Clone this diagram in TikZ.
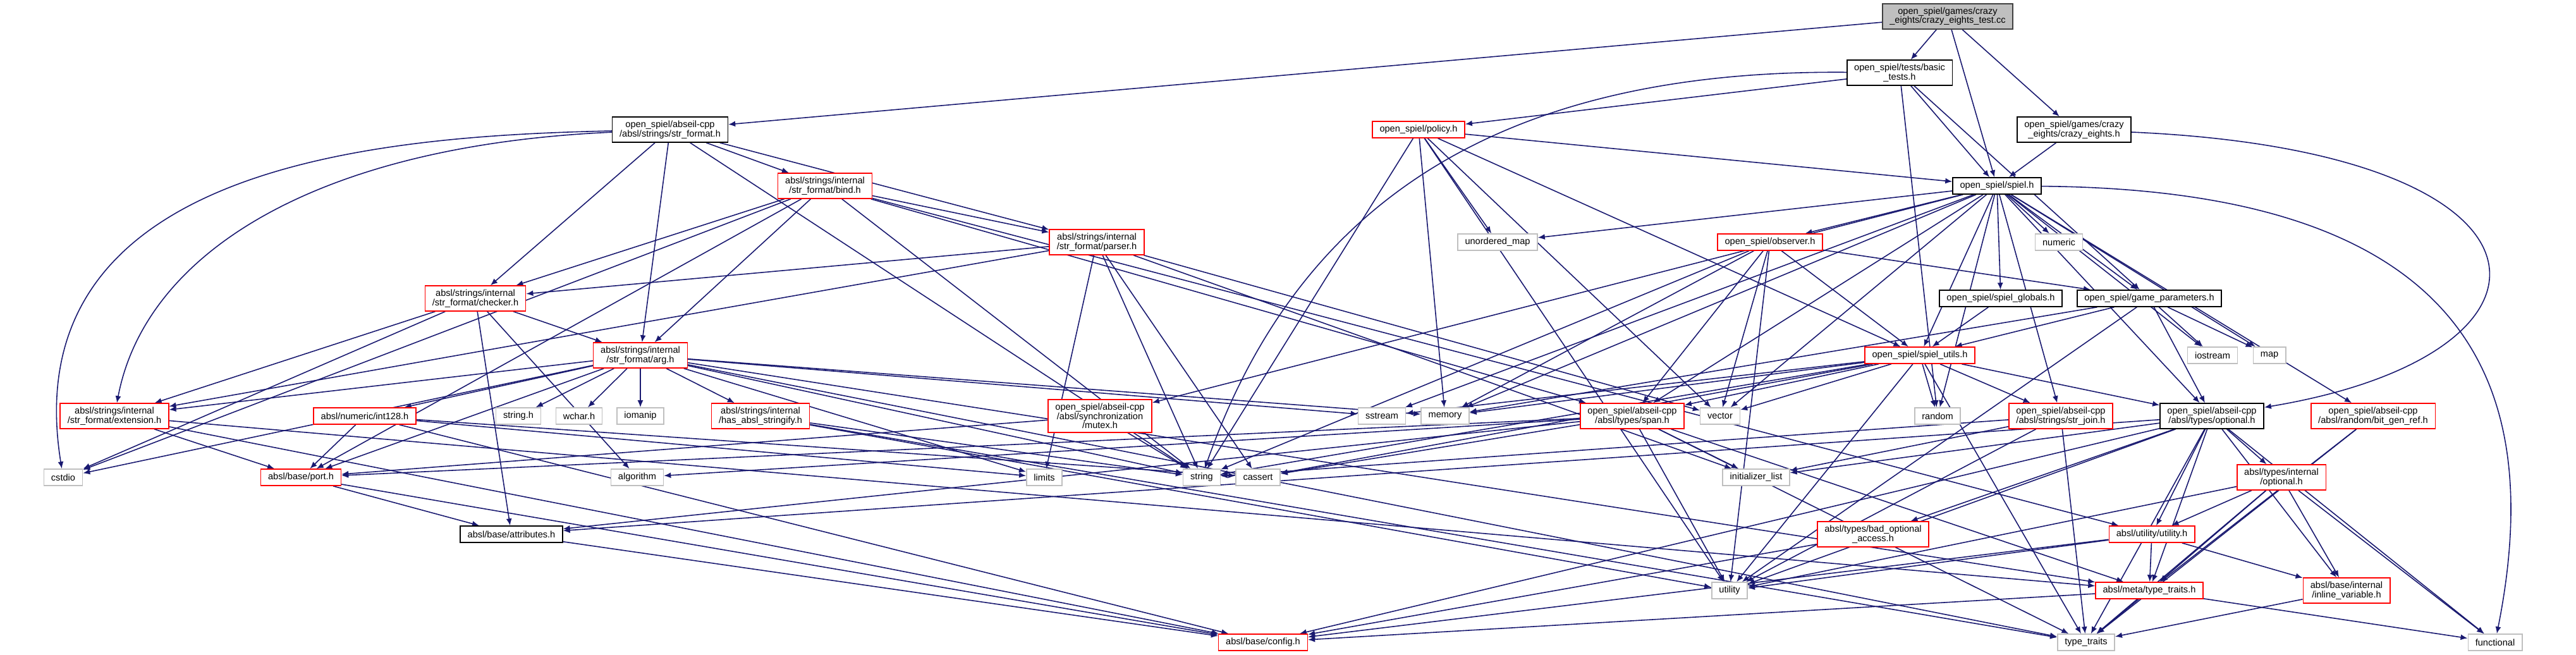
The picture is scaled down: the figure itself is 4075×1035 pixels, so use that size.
\documentclass[tikz,border=0pt]{standalone}
\usepackage{fontspec}
\setmainfont{Liberation Sans}
\usepackage{xcolor}
\usetikzlibrary{arrows.meta,backgrounds}
\definecolor{depblue}{HTML}{191970}
\definecolor{sysgray}{HTML}{BFBFBF}
\definecolor{cutred}{HTML}{FF0000}

\begin{document}
\begin{tikzpicture}[x=0.01cm, y=-0.01cm, >={Latex[length=1.1mm,width=0.9mm]},
  font=\fontsize{4.15}{4.1}\selectfont,
  box/.style={draw, line width=0.45pt, fill=white, inner xsep=0.115cm, inner ysep=0.06cm, minimum height=0.26cm, align=center},
  full/.style={box, draw=black},
  trunc/.style={box, draw=cutred},
  sys/.style={box, draw=sysgray},
  root/.style={box, draw=black!75, fill=sysgray},
  dep/.style={->, draw=depblue, line width=0.45pt}]
\useasboundingbox (0,0) rectangle (4075,1035);

\node[root] (test) at (3081,26) {open\_spiel/games/crazy\\\_eights/crazy\_eights\_test.cc};
\node[full] (basic) at (3005,115) {open\_spiel/tests/basic\\\_tests.h};
\node[full] (strfmt) at (1060,205) {open\_spiel/abseil-cpp\\/absl/strings/str\_format.h};
\node[trunc] (policy) at (2244,205) {open\_spiel/policy.h};
\node[full] (crazy) at (3281,205) {open\_spiel/games/crazy\\\_eights/crazy\_eights.h};
\node[full] (spiel) at (3159,294) {open\_spiel/spiel.h};
\node[trunc] (bind) at (1305,294) {absl/strings/internal\\/str\_format/bind.h};
\node[trunc] (parser) at (1735,383) {absl/strings/internal\\/str\_format/parser.h};
\node[sys] (umap) at (2369,383) {unordered\_map};
\node[trunc] (observer) at (2800,383) {open\_spiel/observer.h};
\node[sys] (numeric) at (3257,383) {numeric};
\node[trunc] (checker) at (752,472) {absl/strings/internal\\/str\_format/checker.h};
\node[full] (globals) at (3165,472) {open\_spiel/spiel\_globals.h};
\node[full] (params) at (3400,472) {open\_spiel/game\_parameters.h};
\node[trunc] (arg) at (1013,562) {absl/strings/internal\\/str\_format/arg.h};
\node[trunc] (utils) at (3037,562) {open\_spiel/spiel\_utils.h};
\node[sys] (iostream) at (3500,562) {iostream};
\node[sys] (map) at (3590,562) {map};
\node[trunc] (ext) at (181,658) {absl/strings/internal\\/str\_format/extension.h};
\node[trunc] (int128) at (577,658) {absl/numeric/int128.h};
\node[sys] (stringh) at (820,658) {string.h};
\node[sys] (wchar) at (916,658) {wchar.h};
\node[sys] (iomanip) at (1013,658) {iomanip};
\node[trunc] (stringify) at (1203,658) {absl/strings/internal\\/has\_absl\_stringify.h};
\node[trunc] (mutex) at (1740,658) {open\_spiel/abseil-cpp\\/absl/synchronization\\/mutex.h};
\node[sys] (sstream) at (2186,658) {sstream};
\node[sys] (memory) at (2286,658) {memory};
\node[trunc] (span) at (2582,658) {open\_spiel/abseil-cpp\\/absl/types/span.h};
\node[sys] (vector) at (2721,658) {vector};
\node[sys] (random) at (3065,658) {random};
\node[trunc] (strjoin) at (3260,658) {open\_spiel/abseil-cpp\\/absl/strings/str\_join.h};
\node[full] (optional) at (3499,658) {open\_spiel/abseil-cpp\\/absl/types/optional.h};
\node[trunc] (bitgen) at (3754,658) {open\_spiel/abseil-cpp\\/absl/random/bit\_gen\_ref.h};
\node[sys] (cstdio) at (100,755) {cstdio};
\node[trunc] (port) at (476,755) {absl/base/port.h};
\node[sys] (algorithm) at (1008,755) {algorithm};
\node[sys] (limits) at (1652,755) {limits};
\node[sys] (string) at (1901,755) {string};
\node[sys] (cassert) at (1990,755) {cassert};
\node[sys] (initlist) at (2778,755) {initializer\_list};
\node[trunc] (ioptional) at (3609,755) {absl/types/internal\\/optional.h};
\node[full] (attrs) at (809,845) {absl/base/attributes.h};
\node[trunc] (badopt) at (2963,845) {absl/types/bad\_optional\\\_access.h};
\node[trunc] (utilh) at (3404,845) {absl/utility/utility.h};
\node[sys] (utility) at (2736,934) {utility};
\node[trunc] (metatt) at (3400,934) {absl/meta/type\_traits.h};
\node[trunc] (inlinevar) at (3712,934) {absl/base/internal\\/inline\_variable.h};
\node[trunc] (config) at (1998,1016) {absl/base/config.h};
\node[sys] (typetraits) at (3300,1016) {type\_traits};
\node[sys] (functional) at (3947,1016) {functional};

\begin{scope}[on background layer]
\foreach \t in {basic,strfmt,spiel,crazy} \draw[dep] (test) -- (\t);
\foreach \t in {policy,spiel,params,random} \draw[dep] (basic) -- (\t);
\draw[dep] (basic) .. controls (2400,110) and (2060,300) .. (string);
\foreach \t in {bind,checker,arg,parser,string} \draw[dep] (strfmt) -- (\t);
\draw[dep] (strfmt) .. controls (600,215) and (20,260) .. (cstdio);
\draw[dep] (strfmt) .. controls (500,230) and (230,400) .. (ext);
\draw[dep] (crazy) -- (spiel);
\draw[dep] (crazy) .. controls (4080,240) and (4090,560) .. (optional);
\foreach \t in {spiel,umap,utils,memory,string,utility,vector} \draw[dep] (policy) -- (\t);
\foreach \t in {umap,observer,numeric,globals,params,utils,iostream,map,sstream,memory,mutex,span,vector,random,strjoin,optional,bitgen} \draw[dep] (spiel) -- (\t);
\draw[dep] (spiel) .. controls (3900,300) and (4030,600) .. (functional);
\foreach \t in {cstdio,string,port,arg,checker,parser,span,utilh} \draw[dep] (bind) -- (\t);
\foreach \t in {checker,ext,string,cassert,initlist,limits,vector} \draw[dep] (parser) -- (\t);
\foreach \t in {arg,ext,algorithm,attrs,cstdio} \draw[dep] (checker) -- (\t);
\foreach \t in {ext,int128,stringh,wchar,iomanip,stringify,port,cstdio,sstream,memory,limits,string,typetraits,metatt} \draw[dep] (arg) -- (\t);
\foreach \t in {port,config,metatt} \draw[dep] (ext) -- (\t);
\foreach \t in {port,limits,cassert,config} \draw[dep] (int128) -- (\t);
\foreach \t in {string,typetraits,utility} \draw[dep] (stringify) -- (\t);
\foreach \t in {port,string} \draw[dep] (mutex) -- (\t);
\foreach \t in {params,utils,span,vector,memory,string,utility} \draw[dep] (observer) -- (\t);
\draw[dep] (globals) -- (utils);
\foreach \t in {utils,iostream,map,optional,memory,utility} \draw[dep] (params) -- (\t);
\foreach \t in {sstream,memory,span,vector,random,strjoin,optional,string,cassert,utility,typetraits} \draw[dep] (utils) -- (\t);
\foreach \t in {algorithm,cassert,initlist,port,attrs,metatt,typetraits,utility} \draw[dep] (span) -- (\t);
\foreach \t in {initlist,string,typetraits,utility} \draw[dep] (strjoin) -- (\t);
\foreach \t in {ioptional,badopt,utilh,utility,metatt,inlinevar,functional,typetraits,initlist,attrs,config} \draw[dep] (optional) -- (\t);
\foreach \t in {utilh,metatt,inlinevar,functional,typetraits,utility} \draw[dep] (ioptional) -- (\t);
\foreach \t in {metatt,typetraits} \draw[dep] (bitgen) -- (\t);
\draw[dep] (badopt) -- (config);
\foreach \t in {utility,config,inlinevar,metatt} \draw[dep] (utilh) -- (\t);
\foreach \t in {typetraits,functional,config} \draw[dep] (metatt) -- (\t);
\draw[dep] (inlinevar) -- (typetraits);
\draw[dep] (attrs) -- (config);
\foreach \t in {attrs,config} \draw[dep] (port) -- (\t);
\end{scope}
\end{tikzpicture}
\end{document}
